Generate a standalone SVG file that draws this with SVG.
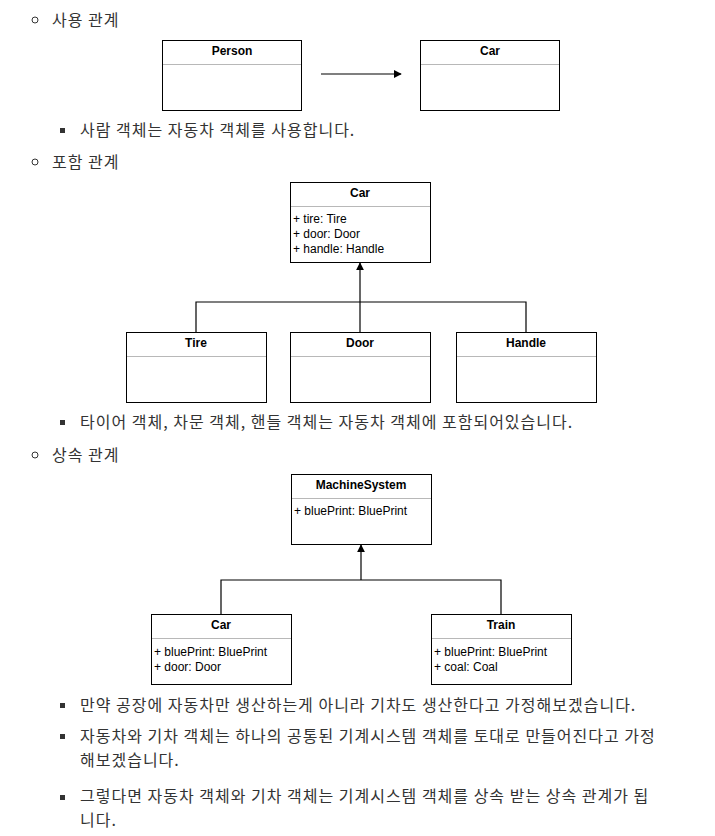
<svg xmlns="http://www.w3.org/2000/svg" width="715" height="836" viewBox="0 0 715 836">
<style>
.t{font-family:"Noto Sans CJK KR","Noto Sans",sans-serif;font-size:16px;fill:#333;letter-spacing:1px}
.box{fill:#fff;stroke:#000;stroke-width:1}
.sep{stroke:#b8b8b8;stroke-width:1}
.h{font-family:"Liberation Sans",Arial,sans-serif;font-size:12px;font-weight:bold;fill:#000;text-anchor:middle}
.a{font-family:"Liberation Sans",Arial,sans-serif;font-size:12px;fill:#000}
.c{fill:none;stroke:#000;stroke-width:1.2}
.cb{fill:none;stroke:#333;stroke-width:1}
.sb{fill:#333}
</style>
<defs>
<marker id="ar" viewBox="0 0 10 10" refX="9" refY="5" markerWidth="8" markerHeight="8" markerUnits="userSpaceOnUse" orient="auto">
<path d="M0,0 L10,5 L0,10 Z" fill="#000"/>
</marker>
</defs>
<rect width="715" height="836" fill="#fff"/>
<g id="text">
<circle class="cb" cx="35" cy="20" r="3"/>
<text class="t" x="52" y="26">사용 관계</text>
<rect class="sb" x="60" y="128" width="5" height="5"/>
<text class="t" x="80" y="136">사람 객체는 자동차 객체를 사용합니다.</text>
<circle class="cb" cx="35" cy="162" r="3"/>
<text class="t" x="52" y="168">포함 관계</text>
<rect class="sb" x="60" y="420" width="5" height="5"/>
<text class="t" x="80" y="428">타이어 객체, 차문 객체, 핸들 객체는 자동차 객체에 포함되어있습니다.</text>
<circle class="cb" cx="35" cy="455" r="3"/>
<text class="t" x="52" y="461">상속 관계</text>
<rect class="sb" x="60" y="703" width="5" height="5"/>
<text class="t" x="80" y="711">만약 공장에 자동차만 생산하는게 아니라 기차도 생산한다고 가정해보겠습니다.</text>
<rect class="sb" x="60" y="734" width="5" height="5"/>
<text class="t" x="80" y="742">자동차와 기차 객체는 하나의 공통된 기계시스템 객체를 토대로 만들어진다고 가정</text>
<text class="t" x="80" y="766">해보겠습니다.</text>
<rect class="sb" x="60" y="795" width="5" height="5"/>
<text class="t" x="80" y="802">그렇다면 자동차 객체와 기차 객체는 기계시스템 객체를 상속 받는 상속 관계가 됩</text>
<text class="t" x="80" y="826">니다.</text>
</g>
<g id="connectors">
<line class="c" x1="321" y1="74" x2="401" y2="74" marker-end="url(#ar)"/>
<line class="c" x1="360" y1="332" x2="360" y2="263" marker-end="url(#ar)"/>
<polyline class="c" points="196,332 196,302 526,302 526,332"/>
<line class="c" x1="361" y1="580" x2="361" y2="545" marker-end="url(#ar)"/>
<polyline class="c" points="221,614 221,580 501,580 501,614"/>
</g>
<g id="person">
<rect class="box" x="162.5" y="40.5" width="139" height="70"/>
<line class="sep" x1="163" y1="64.5" x2="301" y2="64.5"/>
<text class="h" x="232" y="55">Person</text>
</g>
<g id="car1">
<rect class="box" x="420.5" y="40.5" width="139" height="70"/>
<line class="sep" x1="421" y1="64.5" x2="559" y2="64.5"/>
<text class="h" x="490" y="55">Car</text>
</g>
<g id="car2">
<rect class="box" x="290.5" y="182.5" width="140" height="80"/>
<line class="sep" x1="291" y1="206.5" x2="430" y2="206.5"/>
<text class="h" x="360" y="197">Car</text>
<text class="a" x="293" y="223">+ tire: Tire</text>
<text class="a" x="293" y="238">+ door: Door</text>
<text class="a" x="293" y="253">+ handle: Handle</text>
</g>
<g id="tire">
<rect class="box" x="126.5" y="332.5" width="140" height="70"/>
<line class="sep" x1="127" y1="356.5" x2="266" y2="356.5"/>
<text class="h" x="196" y="347">Tire</text>
</g>
<g id="door">
<rect class="box" x="290.5" y="332.5" width="140" height="70"/>
<line class="sep" x1="291" y1="356.5" x2="430" y2="356.5"/>
<text class="h" x="360" y="347">Door</text>
</g>
<g id="handle">
<rect class="box" x="456.5" y="332.5" width="140" height="70"/>
<line class="sep" x1="457" y1="356.5" x2="596" y2="356.5"/>
<text class="h" x="526" y="347">Handle</text>
</g>
<g id="machine">
<rect class="box" x="291.5" y="474.5" width="140" height="70"/>
<line class="sep" x1="292" y1="498.5" x2="431" y2="498.5"/>
<text class="h" x="361" y="489">MachineSystem</text>
<text class="a" x="294" y="515">+ bluePrint: BluePrint</text>
</g>
<g id="car3">
<rect class="box" x="151.5" y="614.5" width="140" height="70"/>
<line class="sep" x1="152" y1="638.5" x2="291" y2="638.5"/>
<text class="h" x="221" y="629">Car</text>
<text class="a" x="154" y="656">+ bluePrint: BluePrint</text>
<text class="a" x="154" y="671">+ door: Door</text>
</g>
<g id="train">
<rect class="box" x="431.5" y="614.5" width="140" height="70"/>
<line class="sep" x1="432" y1="638.5" x2="571" y2="638.5"/>
<text class="h" x="501" y="629">Train</text>
<text class="a" x="434" y="656">+ bluePrint: BluePrint</text>
<text class="a" x="434" y="671">+ coal: Coal</text>
</g>
</svg>
